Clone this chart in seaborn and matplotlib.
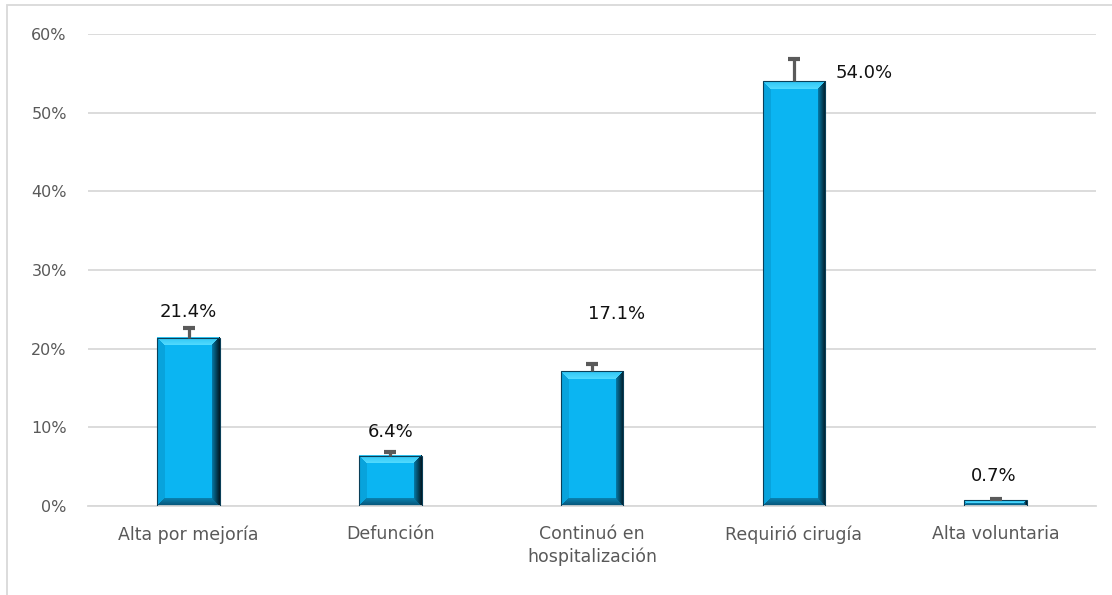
import matplotlib
matplotlib.use("Agg")
import matplotlib.pyplot as plt
import seaborn as sns
import numpy as np
import pandas as pd
from matplotlib.patches import Rectangle
from matplotlib.colors import to_rgb

categories = ["Alta por mejoría", "Defunción", "Continuó en\nhospitalización", "Requirió cirugía", "Alta voluntaria"]
values = [21.4, 6.4, 17.1, 54.0, 0.7]
errors = [1.2, 0.5, 0.95, 2.8, 0.25]
labels = ["21.4%", "6.4%", "17.1%", "54.0%", "0.7%"]
label_dx = [0.0, 0.0, 0.124, 0.35, -0.01]
label_y = [24.6, 9.4, 24.4, 55.0, 3.8]
yticks = [0, 10, 20, 30, 40, 50, 60]

sns.set_theme(style="white")
plt.rcParams['font.family'] = ['DejaVu Sans']

fig = plt.figure(figsize=(11.12, 5.95), dpi=100)
ax = fig.add_axes([0.0788, 0.1496, 0.9072, 0.7933])

df = pd.DataFrame({"cat": categories, "val": values})
sns.barplot(data=df, x="cat", y="val", ax=ax, color="#0BB5F2", width=0.31,
            edgecolor="#0A3F58", linewidth=0.8, saturation=1)
ax.set_xlim(-0.5, 4.5)
ax.set_ylim(0, 60)

# bevel shading for each bar (derived from the bar patches)
face = np.array(to_rgb("#0BB5F2"))
top_out = np.array(to_rgb("#2FC6F5"))
top_in = np.array(to_rgb("#55DCFF"))
left_c = np.array(to_rgb("#08A3DC"))
right_in = np.array(to_rgb("#0680B0"))
right_out = np.array(to_rgb("#021C28"))
bot_in = np.array(to_rgb("#0A86B5"))
bot_out = np.array(to_rgb("#075478"))
bev = 8
for p in list(ax.patches):
    x0, y0 = p.get_x(), p.get_y()
    x1, y1 = x0 + p.get_width(), y0 + p.get_height()
    (px0, py0), (px1, py1) = ax.transData.transform([(x0, y0), (x1, y1)])
    W = max(int(round(px1 - px0)), 2)
    H = max(int(round(py1 - py0)), 2)
    b = min(bev, H // 2, W // 2)
    arr = np.tile(face, (H, W, 1)).astype(float)
    for i in range(H):
        for j in range(W):
            dt, db, dl, dr = i, H - 1 - i, j, W - 1 - j
            m = min(dt, db, dl, dr)
            if m >= b:
                continue
            t = m / max(b, 1)
            if m == dr:
                arr[i, j] = right_out * (1 - t) + right_in * t
            elif m == db:
                arr[i, j] = bot_out * (1 - t) + bot_in * t
            elif m == dt:
                arr[i, j] = top_out * (1 - t) + top_in * t
            else:
                arr[i, j] = left_c
    ax.imshow(arr, extent=(x0, x1, y0, y1), origin="upper", aspect="auto",
              interpolation="nearest", zorder=2.5)
    p.set_facecolor("none")
    p.set_zorder(2.6)

eb = ax.errorbar(np.arange(len(values)), values, yerr=[np.zeros(len(values)), errors],
                 fmt="none", ecolor="#5A5A5A", elinewidth=2.3, capsize=4.3, capthick=3, zorder=3)
caplines = eb[1]
if len(caplines) == 2:
    caplines[0].set_visible(False)

for i, (lab, dx, ly) in enumerate(zip(labels, label_dx, label_y)):
    ax.text(i + dx, ly, lab, ha="center", va="center", fontsize=13, color="#111111")

ax.set_xlim(-0.5, 4.5)
ax.set_ylim(0, 60)
ax.set_yticks(yticks)
ax.set_yticklabels([f"{t}%" for t in yticks], fontsize=11.5, color="#595959")
ax.set_xticks(range(len(categories)))
ax.set_xticklabels(categories, fontsize=12.5, color="#595959", linespacing=1.3)
ax.tick_params(axis="x", length=0, pad=14)
ax.tick_params(axis="y", length=0, pad=15)
ax.set_xlabel("")
ax.set_ylabel("")
ax.yaxis.grid(True, color="#D9D9D9", linewidth=1.3)
ax.set_axisbelow(True)
for s in ["top", "right", "left"]:
    ax.spines[s].set_visible(False)
ax.spines["bottom"].set_color("#D9D9D9")
ax.spines["bottom"].set_linewidth(1.3)

fig.patches.append(Rectangle((7/1112, -0.01), 1.2, 1 - 5/595 + 0.01, transform=fig.transFigure,
                             fill=False, edgecolor="#D9D9D9", linewidth=1.3))

fig.savefig("out.png", dpi=100)
